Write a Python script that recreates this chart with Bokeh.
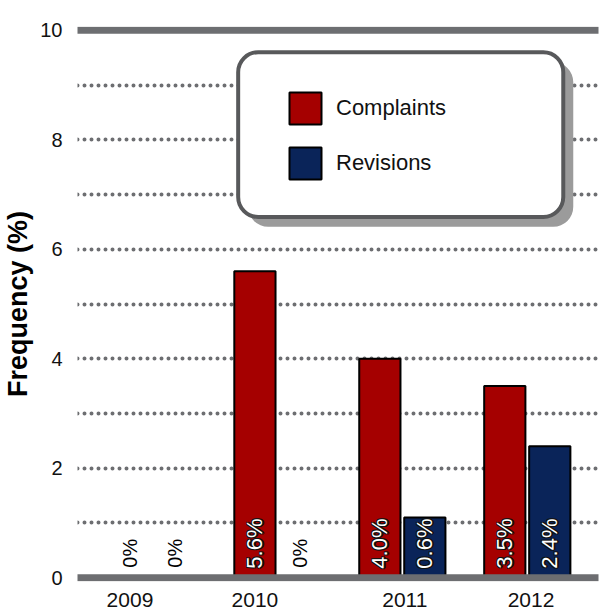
import math
from bokeh.plotting import figure
from bokeh.models import (Range1d, FixedTicker, ColumnDataSource, Grid, Legend,
                          LegendItem, BoxAnnotation, Span)
from bokeh.core.properties import value
from bokeh.embed import file_html
from bokeh.resources import INLINE

# ---- data ----
years = ["2009", "2010", "2011", "2012"]
complaints = [0.0, 5.6, 4.0, 3.5]
revisions = [0.0, 0.0, 1.1, 2.4]
complaint_labels = ["0%", "5.6%", "4.0%", "3.5%"]
revision_labels = ["0%", "0%", "0.6%", "2.4%"]
year_tick_pos = [-0.18, 0.82, 2.02, 3.03]
y_tick_values = [0, 2, 4, 6, 8, 10]
dotted_levels = [1, 2, 3, 4, 5, 6, 7, 8, 9]
frame_levels = [0, 10]

# ---- style ----
FONT = "Liberation Sans"
RED = "#a50000"
BLUE = "#0a2459"
GRID = "#6d6e71"
OFF = 0.18
BW = 0.33

p = figure(width=602, height=609, output_backend="svg", toolbar_location=None,
           x_range=Range1d(-0.6, 3.57), y_range=Range1d(-0.07, 10.07),
           min_border_top=26, min_border_right=4, min_border_left=0, min_border_bottom=0)
p.outline_line_color = None
p.xgrid.visible = False
p.ygrid.visible = False

dotted = Grid(dimension=1, ticker=FixedTicker(ticks=dotted_levels),
              grid_line_color=GRID, grid_line_width=4, grid_line_dash="0 7",
              grid_line_cap="round")
p.add_layout(dotted)

gi = list(range(len(years)))
src = ColumnDataSource(dict(
    xc=[i - OFF for i in gi], xr=[i + OFF for i in gi],
    comp=complaints, rev=revisions))

r1 = p.vbar(x="xc", top="comp", width=BW, source=src, fill_color=RED,
            line_color="black", line_width=2)
r2 = p.vbar(x="xr", top="rev", width=BW, source=src, fill_color=BLUE,
            line_color="black", line_width=2)

# labels
xs_all = [i - OFF for i in gi] + [i + OFF for i in gi]
vals_all = complaints + revisions
txt_all = complaint_labels + revision_labels
nz = dict(x=[], y=[], t=[])
zz = dict(x=[], y=[], t=[])
for x, v, t in zip(xs_all, vals_all, txt_all):
    d = nz if v > 0 else zz
    d["x"].append(x); d["y"].append(0); d["t"].append(t)
nz_src = ColumnDataSource(nz)
zz_src = ColumnDataSource(zz)
for dx, dy in [(-1, -1), (1, 1), (-1, 1), (1, -1), (1.5, 0)]:
    p.text(x="x", y="y", text="t", source=nz_src, angle=math.pi / 2,
           text_align="left", text_baseline="middle", x_offset=dx, y_offset=-9 + dy,
           text_font=value(FONT), text_font_size="22px", text_color="#111111")
p.text(x="x", y="y", text="t", source=nz_src, angle=math.pi / 2,
       text_align="left", text_baseline="middle", y_offset=-9,
       text_font=value(FONT), text_font_size="22px", text_color="white")
p.text(x="x", y="y", text="t", source=zz_src, angle=math.pi / 2,
       text_align="left", text_baseline="middle", y_offset=-10,
       text_font=value(FONT), text_font_size="20px", text_color="#000000")

for lv in frame_levels:
    p.add_layout(Span(location=lv, dimension="width", line_color=GRID,
                      line_width=7, line_cap="round"))

# legend box with shadow
shadow = BoxAnnotation(left=0.766, right=3.368, bottom=6.41, top=9.42,
                       fill_color="#9b9b9b", fill_alpha=1, line_color=None,
                       border_radius=20)
box = BoxAnnotation(left=0.686, right=3.288, bottom=6.59, top=9.6,
                    fill_color="white", fill_alpha=1, line_color="#58595b",
                    line_alpha=1, line_width=4, border_radius=20)
p.add_layout(shadow)
p.add_layout(box)

legend = Legend(items=[LegendItem(label="Complaints", renderers=[r1]),
                       LegendItem(label="Revisions", renderers=[r2])],
                location=(208, 398), glyph_width=40, glyph_height=40,
                label_height=40, spacing=15, label_standoff=11, padding=0, margin=0,
                border_line_color=None, background_fill_alpha=0,
                label_text_font=FONT, label_text_font_size="22px",
                label_text_color="#111111")
p.add_layout(legend)

# axes
p.yaxis.ticker = FixedTicker(ticks=y_tick_values)
p.yaxis.axis_label = "Frequency (%)"
p.yaxis.axis_label_text_font = FONT
p.yaxis.axis_label_text_font_style = "bold"
p.yaxis.axis_label_text_font_size = "27px"
p.yaxis.axis_label_text_color = "black"
p.yaxis.axis_label_standoff = 4
p.yaxis.major_label_standoff = 9
p.yaxis.major_label_text_font = FONT
p.yaxis.major_label_text_font_size = "20px"
p.yaxis.major_label_text_color = "#111111"

p.xaxis.ticker = FixedTicker(ticks=year_tick_pos)
p.xaxis.major_label_overrides = {pos: y for pos, y in zip(year_tick_pos, years)}
p.xaxis.major_label_text_font = FONT
p.xaxis.major_label_text_font_size = "21px"
p.xaxis.major_label_text_color = "#111111"
p.xaxis.major_label_standoff = 5

for ax in (p.xaxis[0], p.yaxis[0]):
    ax.axis_line_color = None
    ax.major_tick_line_color = None
    ax.minor_tick_line_color = None

open("out.html", "w").write(file_html(p, INLINE))
